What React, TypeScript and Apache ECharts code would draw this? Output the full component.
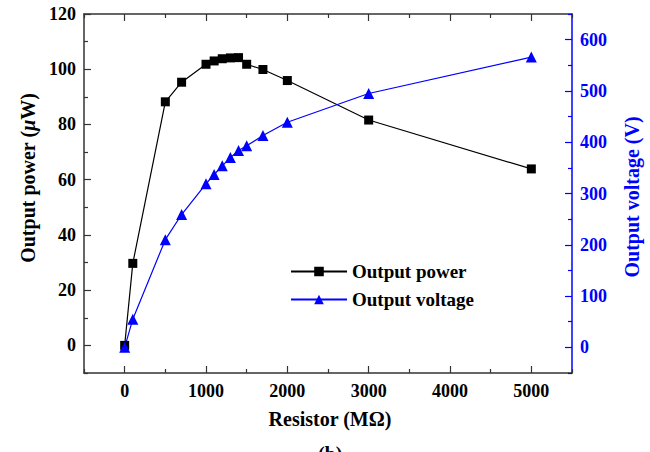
import React, { useEffect, useRef } from "react";
import * as echarts from "echarts";

const resistor = [0, 100, 500, 700, 1000, 1100, 1200, 1300, 1400, 1500, 1700, 2000, 3000, 5000];
const power = [0, 29.7, 88.2, 95.3, 101.8, 103.0, 103.8, 104.1, 104.2, 101.8, 99.9, 95.9, 81.6, 63.9];
const voltage = [0, 55, 210, 259, 319, 337, 354, 370, 384, 393, 413, 439, 495, 566];

const xMajor = [0, 1000, 2000, 3000, 4000, 5000];
const xMinor = [-500, 500, 1500, 2500, 3500, 4500, 5500];
const yLeftMajor = [0, 20, 40, 60, 80, 100, 120];
const yLeftMinor = [-10, 10, 30, 50, 70, 90, 110];
const yRightMajor = [0, 100, 200, 300, 400, 500, 600];
const yRightMinor = [-50, 50, 150, 250, 350, 450, 550, 650];

const FONT = "'Liberation Serif', 'Times New Roman', serif";
const BLUE = "#0000ff";
const AX = "#333333";

export default function App() {
  const ref = useRef<HTMLDivElement>(null);
  useEffect(() => {
    if (!ref.current) return;
    const chart = echarts.init(ref.current, null, { renderer: "svg" });
    const tickFont = { fontFamily: FONT, fontWeight: "bold" as const, fontSize: 18 };
    const fmt = (v: number) => String(v);
    const xBase = (pos: "bottom" | "top", withLabel: boolean, major: boolean) => ({
      type: "value" as const,
      position: pos,
      min: -500,
      max: 5500,
      axisLine: { show: major, onZero: false, lineStyle: { color: AX, width: 1.5 } },
      splitLine: { show: false },
      axisTick: {
        show: true,
        inside: true,
        length: major ? 7 : 4,
        customValues: major ? xMajor : xMinor,
        lineStyle: { color: AX, width: 1.2 },
      },
      axisLabel: withLabel
        ? { show: true, customValues: xMajor, formatter: fmt, color: "#000", margin: 9, ...tickFont }
        : { show: false },
    });
    const yBase = (pos: "left" | "right", min: number, max: number, color: string, ticks: number[], major: boolean, labels: boolean) => ({
      type: "value" as const,
      position: pos,
      min,
      max,
      axisLine: { show: major, onZero: false, lineStyle: { color, width: 1.5 } },
      splitLine: { show: false },
      axisTick: { show: true, inside: true, length: major ? 7 : 4, customValues: ticks, lineStyle: { color, width: 1.2 } },
      axisLabel: labels
        ? { show: true, customValues: ticks, formatter: fmt, color: color === AX ? "#000" : color, margin: 8, ...tickFont }
        : { show: false },
    });
    chart.setOption({
      animation: false,
      grid: { left: 84, right: 78, top: 14, bottom: 79, containLabel: false },
      xAxis: [
        xBase("bottom", true, true),
        xBase("bottom", false, false),
        xBase("top", false, true),
        xBase("top", false, false),
      ],
      yAxis: [
        yBase("left", -10, 120, AX, yLeftMajor, true, true),
        yBase("right", -50, 650, BLUE, yRightMajor, true, true),
        yBase("left", -10, 120, AX, yLeftMinor, false, false),
        yBase("right", -50, 650, BLUE, yRightMinor, false, false),
      ],
      legend: {
        orient: "vertical",
        left: 285,
        top: 257,
        itemWidth: 56,
        itemHeight: 12,
        itemGap: 9,
        textStyle: { color: "#000", fontFamily: FONT, fontWeight: "bold", fontSize: 19 },
        data: ["Output power", "Output voltage"],
      },
      graphic: [
        {
          type: "text",
          x: 28,
          y: 178,
          rotation: Math.PI / 2,
          style: {
            text: "{a|Output power (}{i|μ}{a|W)}",
            align: "center",
            verticalAlign: "middle",
            rich: {
              a: { fill: "#000", fontFamily: FONT, fontWeight: "bold", fontSize: 20 },
              i: { fill: "#000", fontFamily: FONT, fontWeight: "bold", fontStyle: "italic", fontSize: 20 },
            },
          },
        },
        {
          type: "text",
          x: 632,
          y: 197,
          rotation: Math.PI / 2,
          style: {
            text: "Output voltage (V)",
            align: "center",
            verticalAlign: "middle",
            fill: BLUE,
            font: `bold 20px ${FONT}`,
          },
        },
        {
          type: "text",
          x: 330,
          y: 419,
          style: {
            text: "Resistor (MΩ)",
            align: "center",
            verticalAlign: "middle",
            fill: "#000",
            font: `bold 20px ${FONT}`,
          },
        },
        {
          type: "text",
          x: 318,
          y: 444,
          style: { text: "(b)", fill: "#000", font: `bold 20px ${FONT}` },
        },
      ],
      series: [
        {
          name: "Output power",
          type: "line",
          xAxisIndex: 0,
          yAxisIndex: 0,
          data: resistor.map((r, i) => [r, power[i]]),
          symbol: "rect",
          symbolSize: 9,
          itemStyle: { color: "#000" },
          lineStyle: { color: "#000", width: 1.2 },
        },
        {
          name: "Output voltage",
          type: "line",
          xAxisIndex: 0,
          yAxisIndex: 1,
          data: resistor.map((r, i) => [r, voltage[i]]),
          symbol: "triangle",
          symbolSize: 11,
          itemStyle: { color: BLUE },
          lineStyle: { color: BLUE, width: 1.2 },
        },
      ],
    });
    return () => chart.dispose();
  }, []);
  return <div ref={ref} style={{ width: 650, height: 452, position: "absolute", left: 0, top: 0 }} />;
}
